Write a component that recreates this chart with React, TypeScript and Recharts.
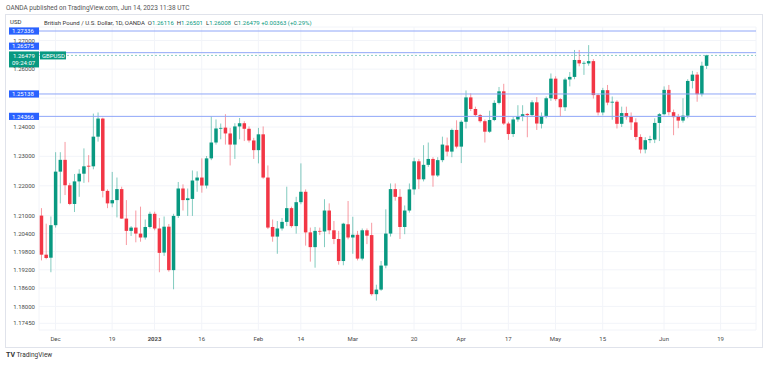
import React from 'react';
import { ComposedChart, Bar, XAxis, YAxis, CartesianGrid, ReferenceLine } from 'recharts';

// trading days (the last ten are empty space to the right of the last candle)
const days = [
  'Nov 28', 'Nov 29', 'Nov 30', 'Dec 1', 'Dec 2', 'Dec 5', 'Dec 6', 'Dec 7', 'Dec 8', 'Dec 9',
  'Dec 12', 'Dec 13', 'Dec 14', 'Dec 15', 'Dec 16', 'Dec 19', 'Dec 20', 'Dec 21', 'Dec 22', 'Dec 23',
  'Dec 27', 'Dec 28', 'Dec 29', 'Dec 30', 'Jan 2', 'Jan 3', 'Jan 4', 'Jan 5', 'Jan 6', 'Jan 9',
  'Jan 10', 'Jan 11', 'Jan 12', 'Jan 13', 'Jan 16', 'Jan 17', 'Jan 18', 'Jan 19', 'Jan 20', 'Jan 23',
  'Jan 24', 'Jan 25', 'Jan 26', 'Jan 27', 'Jan 30', 'Jan 31', 'Feb 1', 'Feb 2', 'Feb 3', 'Feb 6',
  'Feb 7', 'Feb 8', 'Feb 9', 'Feb 10', 'Feb 13', 'Feb 14', 'Feb 15', 'Feb 16', 'Feb 17', 'Feb 20',
  'Feb 21', 'Feb 22', 'Feb 23', 'Feb 24', 'Feb 27', 'Feb 28', 'Mar 1', 'Mar 2', 'Mar 3', 'Mar 6',
  'Mar 7', 'Mar 8', 'Mar 9', 'Mar 10', 'Mar 13', 'Mar 14', 'Mar 15', 'Mar 16', 'Mar 17', 'Mar 20',
  'Mar 21', 'Mar 22', 'Mar 23', 'Mar 24', 'Mar 27', 'Mar 28', 'Mar 29', 'Mar 30', 'Mar 31', 'Apr 3',
  'Apr 4', 'Apr 5', 'Apr 6', 'Apr 7', 'Apr 10', 'Apr 11', 'Apr 12', 'Apr 13', 'Apr 14', 'Apr 17',
  'Apr 18', 'Apr 19', 'Apr 20', 'Apr 21', 'Apr 24', 'Apr 25', 'Apr 26', 'Apr 27', 'Apr 28', 'May 1',
  'May 2', 'May 3', 'May 4', 'May 5', 'May 8', 'May 9', 'May 10', 'May 11', 'May 12', 'May 15',
  'May 16', 'May 17', 'May 18', 'May 19', 'May 22', 'May 23', 'May 24', 'May 25', 'May 26', 'May 29',
  'May 30', 'May 31', 'Jun 1', 'Jun 2', 'Jun 5', 'Jun 6', 'Jun 7', 'Jun 8', 'Jun 9', 'Jun 12',
  'Jun 13', 'Jun 14', 'Jun 15', 'Jun 16', 'Jun 19', 'Jun 20', 'Jun 21', 'Jun 22', 'Jun 23', 'Jun 26',
  'Jun 27', 'Jun 28',
];

const open = [
  1.2100, 1.1970, 1.1960, 1.2068, 1.2248, 1.2288, 1.2202, 1.2139, 1.2215, 1.2241,
  1.2268, 1.2266, 1.2367, 1.2429, 1.2183, 1.2141, 1.2152, 1.2189, 1.2090, 1.2049,
  1.2060, 1.2040, 1.2027, 1.2062, 1.2106, 1.2057, 1.1977, 1.2063, 1.1919, 1.2099,
  1.2191, 1.2152, 1.2156, 1.2218, 1.2228, 1.2201, 1.2293, 1.2347, 1.2395, 1.2398,
  1.2378, 1.2340, 1.2402, 1.2413, 1.2394, 1.2354, 1.2321, 1.2375, 1.2228, 1.2062,
  1.2030, 1.2057, 1.2079, 1.2125, 1.2065, 1.2145, 1.2180, 1.2044, 1.1995, 1.2049,
  1.2047, 1.2117, 1.2051, 1.2022, 1.1949, 1.2071, 1.2027, 1.2036, 1.1957, 1.2051,
  1.2035, 1.1840, 1.1855, 1.1934, 1.2040, 1.2189, 1.2163, 1.2062, 1.2117, 1.2188,
  1.2283, 1.2222, 1.2271, 1.2291, 1.2235, 1.2287, 1.2337, 1.2316, 1.2390, 1.2333,
  1.2418, 1.2502, 1.2462, 1.2441, 1.2420, 1.2384, 1.2424, 1.2483, 1.2523, 1.2412,
  1.2376, 1.2426, 1.2437, 1.2445, 1.2441, 1.2485, 1.2411, 1.2438, 1.2499, 1.2567,
  1.2496, 1.2468, 1.2564, 1.2573, 1.2632, 1.2620, 1.2620, 1.2628, 1.2510, 1.2450,
  1.2527, 1.2484, 1.2487, 1.2411, 1.2448, 1.2436, 1.2416, 1.2366, 1.2323, 1.2355,
  1.2357, 1.2414, 1.2444, 1.2528, 1.2451, 1.2436, 1.2422, 1.2439, 1.2559, 1.2581,
  1.2513, 1.26116,
];
const high = [
  1.2125, 1.2073, 1.2097, 1.2314, 1.2314, 1.2349, 1.2210, 1.2240, 1.2256, 1.2327,
  1.2304, 1.2446, 1.2450, 1.2432, 1.2188, 1.2247, 1.2228, 1.2197, 1.2152, 1.2065,
  1.2117, 1.2130, 1.2087, 1.2113, 1.2113, 1.2092, 1.2097, 1.2072, 1.2106, 1.2213,
  1.2205, 1.2191, 1.2252, 1.2249, 1.2293, 1.2301, 1.2437, 1.2426, 1.2412, 1.2444,
  1.2397, 1.2413, 1.2431, 1.2420, 1.2402, 1.2363, 1.2397, 1.2402, 1.2269, 1.2087,
  1.2082, 1.2092, 1.2197, 1.2130, 1.2163, 1.2276, 1.2188, 1.2060, 1.2062, 1.2060,
  1.2155, 1.2141, 1.2082, 1.2049, 1.2076, 1.2149, 1.2096, 1.2049, 1.2057, 1.2057,
  1.2076, 1.1871, 1.1949, 1.2121, 1.2208, 1.2208, 1.2189, 1.2134, 1.2208, 1.2295,
  1.2291, 1.2338, 1.2347, 1.2297, 1.2297, 1.2367, 1.2364, 1.2395, 1.2423, 1.2423,
  1.2526, 1.2516, 1.2470, 1.2445, 1.2426, 1.2456, 1.2492, 1.2538, 1.2549, 1.2418,
  1.2435, 1.2475, 1.2475, 1.2448, 1.2492, 1.2503, 1.2450, 1.2505, 1.2585, 1.2575,
  1.2500, 1.2570, 1.2590, 1.2667, 1.2667, 1.2628, 1.2684, 1.2635, 1.2515, 1.2535,
  1.2545, 1.2505, 1.2492, 1.2470, 1.2470, 1.2450, 1.2430, 1.2375, 1.2365, 1.2370,
  1.2430, 1.2448, 1.2540, 1.2545, 1.2460, 1.2445, 1.2499, 1.2565, 1.2594, 1.2590,
  1.2626, 1.26501,
];
const low = [
  1.1951, 1.1955, 1.1912, 1.2060, 1.2141, 1.2169, 1.2135, 1.2112, 1.2163, 1.2210,
  1.2212, 1.2256, 1.2350, 1.2161, 1.2125, 1.2128, 1.2094, 1.2089, 1.2002, 1.2032,
  1.2011, 1.2013, 1.2020, 1.2057, 1.2051, 1.1912, 1.1966, 1.1914, 1.1856, 1.2092,
  1.2117, 1.2099, 1.2099, 1.2180, 1.2177, 1.2191, 1.2287, 1.2340, 1.2358, 1.2340,
  1.2269, 1.2291, 1.2358, 1.2352, 1.2347, 1.2291, 1.2276, 1.2224, 1.2055, 1.2013,
  1.1973, 1.2050, 1.2065, 1.2060, 1.2040, 1.2138, 1.2000, 1.1947, 1.1927, 1.2035,
  1.1995, 1.2038, 1.2005, 1.1937, 1.1935, 1.2021, 1.1973, 1.1951, 1.1951, 1.2005,
  1.1835, 1.1819, 1.1851, 1.1925, 1.2030, 1.2150, 1.2022, 1.2038, 1.2110, 1.2170,
  1.2189, 1.2215, 1.2264, 1.2197, 1.2230, 1.2280, 1.2300, 1.2297, 1.2327, 1.2277,
  1.2395, 1.2455, 1.2435, 1.2415, 1.2347, 1.2380, 1.2420, 1.2478, 1.2407, 1.2356,
  1.2366, 1.2418, 1.2420, 1.2365, 1.2437, 1.2390, 1.2395, 1.2430, 1.2490, 1.2490,
  1.2436, 1.2455, 1.2540, 1.2565, 1.2610, 1.2580, 1.2612, 1.2498, 1.2440, 1.2440,
  1.2475, 1.2425, 1.2395, 1.2400, 1.2425, 1.2390, 1.2355, 1.2310, 1.2310, 1.2345,
  1.2345, 1.2352, 1.2440, 1.2440, 1.2372, 1.2396, 1.2415, 1.2430, 1.2533, 1.2487,
  1.2505, 1.26008,
];
const close = [
  1.1970, 1.1959, 1.2068, 1.2248, 1.2288, 1.2202, 1.2139, 1.2215, 1.2241, 1.2266,
  1.2265, 1.2367, 1.2429, 1.2183, 1.2141, 1.2152, 1.2189, 1.2090, 1.2049, 1.2060,
  1.2040, 1.2027, 1.2062, 1.2106, 1.2057, 1.1976, 1.2063, 1.1919, 1.2099, 1.2191,
  1.2152, 1.2158, 1.2218, 1.2228, 1.2201, 1.2293, 1.2347, 1.2395, 1.2397, 1.2378,
  1.2340, 1.2402, 1.2413, 1.2394, 1.2354, 1.2321, 1.2375, 1.2228, 1.2060, 1.2030,
  1.2057, 1.2079, 1.2125, 1.2065, 1.2145, 1.2180, 1.2044, 1.1995, 1.2049, 1.2047,
  1.2117, 1.2051, 1.2022, 1.1949, 1.2073, 1.2027, 1.2036, 1.1957, 1.2051, 1.2033,
  1.1840, 1.1855, 1.1934, 1.2040, 1.2189, 1.2163, 1.2062, 1.2117, 1.2188, 1.2283,
  1.2222, 1.2271, 1.2291, 1.2235, 1.2287, 1.2340, 1.2316, 1.2390, 1.2333, 1.2418,
  1.2502, 1.2462, 1.2441, 1.2420, 1.2384, 1.2424, 1.2483, 1.2523, 1.2412, 1.2376,
  1.2426, 1.2437, 1.2444, 1.2441, 1.2485, 1.2412, 1.2438, 1.2499, 1.2567, 1.2496,
  1.2468, 1.2564, 1.2573, 1.2632, 1.2620, 1.2622, 1.2628, 1.2510, 1.2450, 1.2527,
  1.2484, 1.2487, 1.2411, 1.2448, 1.2434, 1.2416, 1.2366, 1.2323, 1.2355, 1.2359,
  1.2414, 1.2444, 1.2528, 1.2451, 1.2434, 1.2422, 1.2439, 1.2559, 1.2581, 1.2513,
  1.2612, 1.26479,
];

// 1.25 keeps its grid line; its label sits under the 1.25138 tag, so it is left blank
const priceTicks = [1.1745, 1.18, 1.186, 1.192, 1.198, 1.204, 1.21, 1.22, 1.23, 1.24, 1.25, 1.26, 1.27];
const hiddenPriceTicks = [1.25];
const timeTicks = ['Dec 1', 'Dec 19', 'Jan 2', 'Jan 16', 'Feb 1', 'Feb 14', 'Mar 1', 'Mar 20', 'Apr 3', 'Apr 17', 'May 1', 'May 15', 'Jun 1', 'Jun 19'];
const timeLabels = ['Dec', '19', '2023', '16', 'Feb', '14', 'Mar', '20', 'Apr', '17', 'May', '15', 'Jun', '19'];

const levels = [1.27336, 1.26575, 1.25138, 1.24366];
const lastPrice = 1.26479;

const UP = '#089981';
const DOWN = '#f23645';
const FONT = 'Roboto, "Liberation Sans", sans-serif';

const data = days.map((d, i) =>
  i < open.length
    ? { d, o: open[i], h: high[i], l: low[i], c: close[i], range: [low[i], high[i]] }
    : { d }
);

function Candle(props: any) {
  const { x, y, width, height, payload } = props;
  if (!payload || payload.o == null || height == null) return null;
  const { o, h, l, c } = payload;
  const top = Math.min(y, y + height);
  const span = Math.abs(height);
  const k = span / (Math.log(h) - Math.log(l));
  const py = (v: number) => top + (Math.log(h) - Math.log(v)) * k;
  const cx = x + width / 2;
  const col = c >= o ? UP : DOWN;
  const bTop = py(Math.max(o, c));
  const bBot = py(Math.min(o, c));
  const bw = 3.5;
  return (
    <g>
      <line x1={cx} x2={cx} y1={top} y2={top + span} stroke={col} strokeOpacity={0.5} strokeWidth={1} />
      <rect x={cx - bw / 2} y={bTop} width={bw} height={Math.max(bBot - bTop, 0.8)} fill={col} />
    </g>
  );
}

function TimeTick(props: any) {
  const { x, y, payload } = props;
  const i = timeTicks.indexOf(payload.value);
  const txt = timeLabels[i] ?? '';
  return (
    <text x={x} y={y + 3} textAnchor="middle" fontSize={6} fontFamily={FONT} fill="#4a4a4a"
      fontWeight={txt === '2023' ? 700 : 400}>
      {txt}
    </text>
  );
}

function PriceTag(props: any) {
  const { viewBox, text, dy = 0 } = props;
  if (!viewBox) return null;
  const y = viewBox.y + dy;
  const left = viewBox.x - 30;
  return (
    <g>
      <rect x={left} y={y - 3.6} width={30} height={7.2} fill="#2962ff" />
      <text x={left + 3} y={y + 2.2} fontSize={6} fontFamily={FONT} fill="#ffffff">{text}</text>
    </g>
  );
}

function LastTag(props: any) {
  const { viewBox } = props;
  if (!viewBox) return null;
  const y = viewBox.y;
  const left = viewBox.x - 30;
  return (
    <g>
      <rect x={left} y={y - 4} width={30} height={16} fill={UP} />
      <text x={left + 4} y={y + 2.6} fontSize={6} fontFamily={FONT} fill="#ffffff">{lastPrice.toFixed(5)}</text>
      <text x={left + 3} y={y + 9.6} fontSize={6} fontFamily={FONT} fill="#ffffff">09:24:07</text>
      <rect x={viewBox.x + 1} y={y - 4} width={26} height={8} fill={UP} />
      <text x={viewBox.x + 3} y={y + 2.2} fontSize={6} fontFamily={FONT} fill="#ffffff">GBPUSD</text>
    </g>
  );
}

export default function App() {
  return (
    <div style={{ position: 'absolute', left: 0, top: 0, width: 768, height: 365, background: '#fff', fontFamily: FONT }}>
      <div style={{ position: 'absolute', left: 5, top: 14, width: 756, height: 332, border: '1px solid #e0e3eb' }} />
      <ComposedChart width={768} height={365} data={data} margin={{ top: 27, right: 12, bottom: 18, left: 0 }}>
        <CartesianGrid stroke="#f2f4f9" />
        <XAxis dataKey="d" ticks={timeTicks} tick={<TimeTick />} tickLine={false} axisLine={false} height={17} interval={0} />
        <YAxis
          scale="log"
          domain={[1.17233, 1.27477]}
          allowDataOverflow
          ticks={priceTicks}
          interval={0}
          tickFormatter={(v: number) => (hiddenPriceTicks.includes(v) ? '' : v.toFixed(5))}
          tick={{ fontSize: 6, fill: '#4a4a4a', fontFamily: FONT }}
          tickLine={false}
          axisLine={false}
          tickSize={0}
          tickMargin={4}
          width={39}
        />
        {levels.map((v, i) => (
          <ReferenceLine key={v} y={v} stroke="#8fa6f8" strokeWidth={1}
            label={(p: any) => <PriceTag {...p} text={v.toFixed(5)} dy={i === 1 ? -6.5 : 0} />} />
        ))}
        <ReferenceLine y={lastPrice} stroke={UP} strokeOpacity={0.45} strokeDasharray="2 2"
          label={(p: any) => <LastTag {...p} />} />
        <Bar dataKey="range" shape={<Candle />} isAnimationActive={false} />
      </ComposedChart>
      <div style={{ position: 'absolute', left: 6, top: 4, fontSize: 6.5, color: '#555' }}>
        OANDA published on TradingView.com, Jun 14, 2023 11:38 UTC
      </div>
      <div style={{ position: 'absolute', left: 10, top: 18, fontSize: 6, color: '#333' }}>USD</div>
      <div style={{ position: 'absolute', left: 44, top: 19, fontSize: 6, color: '#333', whiteSpace: 'pre' }}>
        {'British Pound / U.S. Dollar, 1D, OANDA  O'}
        <span style={{ color: UP }}>1.26116</span>
        {'  H'}<span style={{ color: UP }}>1.26501</span>
        {'  L'}<span style={{ color: UP }}>1.26008</span>
        {'  C'}<span style={{ color: UP }}>1.26479 +0.00363 (+0.29%)</span>
      </div>
      <div style={{ position: 'absolute', left: 6, top: 351, fontSize: 6.5, color: '#333' }}>
        <b style={{ fontSize: 7 }}>TV</b> TradingView
      </div>
    </div>
  );
}
